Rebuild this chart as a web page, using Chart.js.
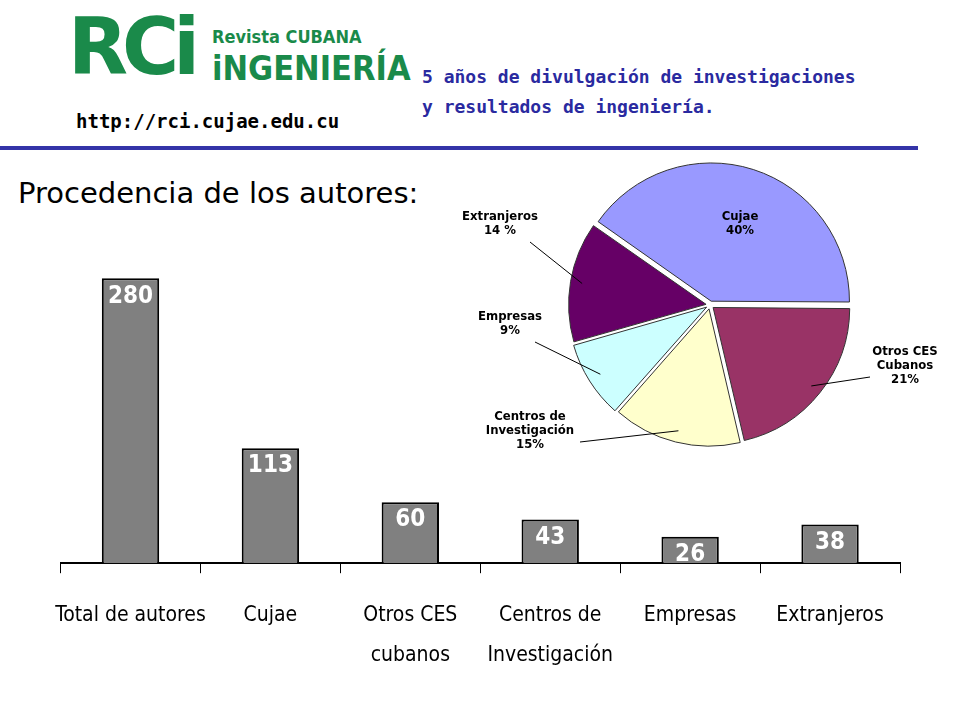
<!DOCTYPE html>
<html><head><meta charset="utf-8">
<script src="https://cdn.jsdelivr.net/npm/chart.js@4"></script>
<style>
body{margin:0;width:960px;height:720px;background:#fff;position:relative;overflow:hidden;font-family:"DejaVu Sans",sans-serif}
.abs{position:absolute}
</style></head><body>
<div class="abs" style="left:68px;top:8px;font:900 78px 'DejaVu Sans';color:#1a8a4a;letter-spacing:-6px;line-height:1">RCi</div>
<div class="abs" style="left:212px;top:26px;font:bold 18px 'DejaVu Sans Condensed','DejaVu Sans';color:#1a8a4a">Revista CUBANA</div>
<div class="abs" style="left:212px;top:48px;font:bold 34px 'DejaVu Sans Condensed','DejaVu Sans';color:#1a8a4a">iNGENIERÍA</div>
<div class="abs" style="left:76px;top:110px;font:bold 19px 'DejaVu Sans Mono';color:#000">http://rci.cujae.edu.cu</div>
<div class="abs" style="left:422px;top:62px;font:bold 18px 'DejaVu Sans Mono';color:#2a2aa0;line-height:30px">5 años de divulgación de investigaciones<br>y resultados de ingeniería.</div>
<div class="abs" style="left:0;top:146px;width:918px;height:4px;background:#3434a8"></div>
<div class="abs" style="left:18px;top:176px;font:29px 'DejaVu Sans';color:#000">Procedencia de los autores:</div>
<div class="abs" style="left:32px;top:200px;width:888px;height:497px"><canvas id="bar"></canvas></div>
<div class="abs" style="left:440px;top:150px;width:500px;height:320px"><canvas id="pie"></canvas></div>
<script>
const categories = ['Total de autores', 'Cujae', ['Otros CES', 'cubanos'], ['Centros de', 'Investigación'], 'Empresas', 'Extranjeros'];
const authorCounts = [280, 113, 60, 43, 26, 38];
const pieLabels = [['Cujae', '40%'], ['Otros CES', 'Cubanos', '21%'], ['Centros de', 'Investigación', '15%'], ['Empresas', '9%'], ['Extranjeros', '14 %']];
const pieValues = [40, 21, 15, 9, 14];
const pieColors = ['#9999ff', '#993366', '#ffffcc', '#ccffff', '#660066'];

const barFont = "'DejaVu Sans Condensed','DejaVu Sans',sans-serif";

const barValues = {
  id: 'barValues',
  afterDatasetsDraw(chart) {
    const ctx = chart.ctx;
    chart.getDatasetMeta(0).data.forEach((bar, i) => {
      ctx.save();
      ctx.fillStyle = '#fff';
      ctx.font = 'bold 24px ' + barFont;
      ctx.textAlign = 'center';
      ctx.textBaseline = 'top';
      ctx.fillText(authorCounts[i], bar.x, bar.y + 6);
      ctx.restore();
    });
  }
};

new Chart(document.getElementById('bar'), {
  type: 'bar',
  data: { labels: categories, datasets: [{ data: authorCounts, backgroundColor: '#808080', borderColor: '#000', borderWidth: 2, barPercentage: 0.41, categoryPercentage: 1 }] },
  options: {
    responsive: true, maintainAspectRatio: false, animation: false,
    layout: { padding: { left: 14, right: 20, bottom: 0 } },
    plugins: { legend: { display: false }, tooltip: { enabled: false } },
    scales: {
      y: { display: false, min: 0, max: 357 },
      x: {
        grid: { display: true, drawOnChartArea: false, offset: true, tickLength: 10, color: '#000' },
        border: { color: '#000', width: 2 },
        ticks: { color: '#000', font: { size: 21, family: barFont, lineHeight: 1.9 }, padding: 22, maxRotation: 0, autoSkip: false }
      }
    }
  },
  plugins: [barValues]
});

// labels with leader lines around the pie
const pieText = {
  id: 'pieText',
  afterDatasetsDraw(chart) {
    const ctx = chart.ctx;
    chart.getDatasetMeta(0).data.forEach((arc, i) => {
      const mid = (arc.startAngle + arc.endAngle) / 2;
      const r = arc.outerRadius * 0.95;
      const px = arc.x + Math.cos(mid) * r, py = arc.y + Math.sin(mid) * r;
      const lines = pieLabels[i];
      let tx, ty, lx;
      if (i === 0) { tx = arc.x + 30; ty = arc.y - 85; }
      else if (i === 1) { tx = arc.x + 195; ty = arc.y + 50; lx = tx - 35; }
      else if (i === 2) { tx = arc.x - 180; ty = arc.y + 115; lx = tx + 50; }
      else if (i === 3) { tx = arc.x - 200; ty = arc.y + 15; lx = tx + 25; }
      else { tx = arc.x - 210; ty = arc.y - 85; lx = tx + 30; }
      ctx.save();
      if (i !== 0) {
        ctx.strokeStyle = '#000'; ctx.lineWidth = 1;
        ctx.beginPath();
        ctx.moveTo(lx, ty + 22);
        ctx.lineTo(px, py);
        ctx.stroke();
      }
      ctx.fillStyle = '#000';
      ctx.font = 'bold 13px ' + barFont;
      ctx.textAlign = 'center';
      lines.forEach((t, k) => ctx.fillText(t, tx, ty + k * 14));
      ctx.restore();
    });
  }
};

new Chart(document.getElementById('pie'), {
  type: 'pie',
  data: { labels: pieLabels.map(l => l[0]), datasets: [{ data: pieValues, backgroundColor: pieColors, borderColor: '#333', borderWidth: 1, offset: 16 }] },
  options: {
    responsive: true, maintainAspectRatio: false, animation: false, rotation: -55,
    layout: { padding: { left: 120, right: 80, top: 10, bottom: 20 } },
    plugins: { legend: { display: false }, tooltip: { enabled: false } }
  },
  plugins: [pieText]
});
</script>
</body></html>
